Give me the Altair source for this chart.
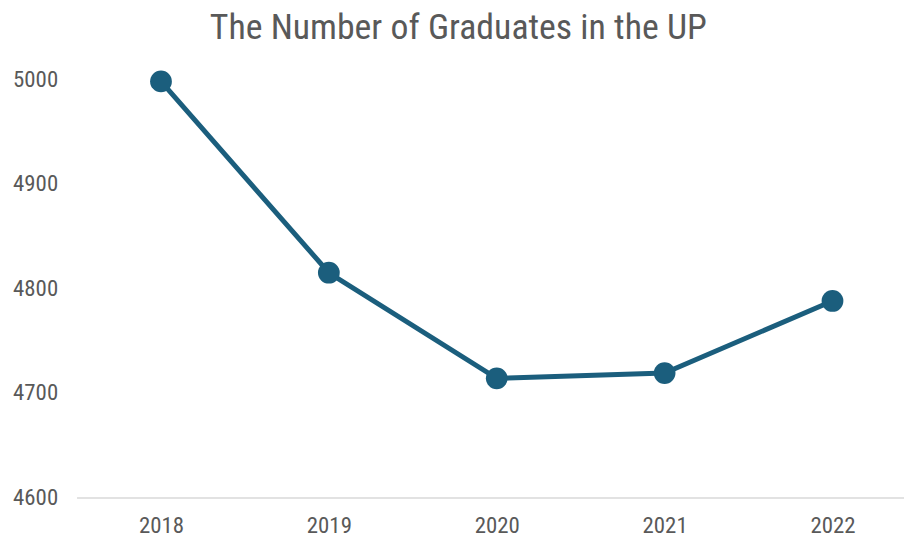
import altair as alt
import pandas as pd

years = [2018, 2019, 2020, 2021, 2022]
graduates = [4998, 4815, 4714, 4719, 4788]

df = pd.DataFrame({"Year": years, "Graduates": graduates})

FONT = "Liberation Sans Narrow, Arial Narrow, Roboto Condensed, sans-serif"
COLOR = "#1b5e7d"

x = alt.X("Year:Q",
          scale=alt.Scale(domain=[2017.497, 2022.426], nice=False, zero=False),
          axis=alt.Axis(values=years, format="d", title=None, grid=False, ticks=False,
                        domain=True, domainColor="#d9d9d9", domainWidth=1.5,
                        labelFont=FONT, labelFontSize=23, labelColor="#595959",
                        labelPadding=17))
y = alt.Y("Graduates:Q",
          scale=alt.Scale(domain=[4600, 5000], nice=False, zero=False),
          axis=alt.Axis(values=[4600, 4700, 4800, 4900, 5000], format="d", title=None,
                        grid=False, ticks=False, domain=False, labelFont=FONT,
                        labelFontSize=23, labelColor="#595959", labelPadding=19))

line = alt.Chart(df).mark_line(color=COLOR, strokeWidth=5, clip=False).encode(x=x, y=y)
pts = alt.Chart(df).mark_circle(color=COLOR, size=480, opacity=1, clip=False).encode(x=x, y=y)

chart = (line + pts).properties(
    width=833, height=421,
    autosize=alt.AutoSizeParams(type="none"),
    padding={"left": 69, "top": 70, "right": 0, "bottom": 45},
    title=alt.Title("The Number of Graduates in the UP", font=FONT, fontSize=36,
                    fontWeight="normal", color="#595959", anchor="middle",
                    frame="bounds", offset=22),
).configure_view(stroke=None)

chart.save("out.html", embed_options={"renderer": "svg", "actions": False})
